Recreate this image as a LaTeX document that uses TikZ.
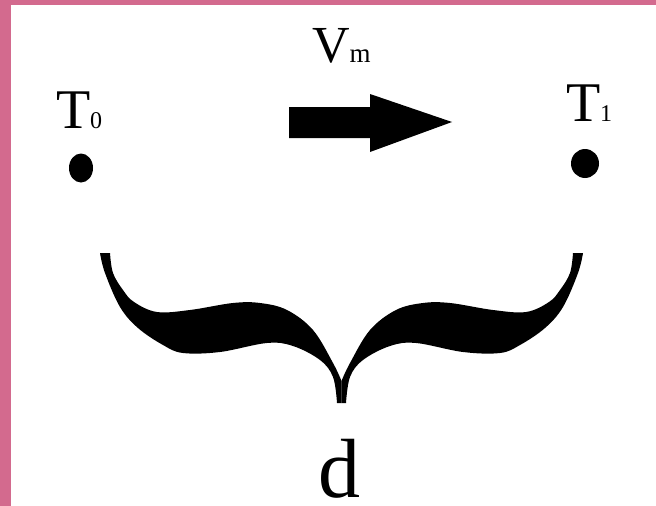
\documentclass[tikz,border=0pt]{standalone}
\usepackage{fontspec}
\setmainfont{Liberation Serif}
\usetikzlibrary{shapes.geometric}
\definecolor{pinkbar}{RGB}{211,106,142}
\tikzset{
  lbl/.style={inner sep=0pt, outer sep=0pt, anchor=base west},
  dotmark/.style={ellipse, fill=black, inner sep=0pt, outer sep=0pt},
}
\begin{document}
\begin{tikzpicture}[x=1pt, y=-1pt]
  \useasboundingbox (0,0) rectangle (656,506);
  \fill[white] (0,0) rectangle (656,506);
  \fill[pinkbar] (0,0) rectangle (11,506);
  \fill[pinkbar] (0,0) rectangle (656,5);

  % labels
  \node[lbl] (t0) at (56,128) {\fontsize{56}{60}\selectfont T\fontsize{24}{26}\selectfont 0};
  \node[lbl] (t1) at (566,121) {\fontsize{56}{60}\selectfont T\fontsize{24}{26}\selectfont 1};
  \node[lbl] (vm) at (312,62) {\fontsize{52}{56}\selectfont V\fontsize{27}{30}\selectfont m};
  \node[lbl] (d) at (318,497) {\fontsize{84}{90}\selectfont d};

  % points
  \node[dotmark, minimum width=24pt, minimum height=29pt] (p0) at (81,168) {};
  \node[dotmark, minimum width=28pt, minimum height=29pt] (p1) at (585,163.5) {};

  % block arrow
  \fill (289,107) -- (370,107) -- (370,94) -- (452,122) -- (370,152)
        -- (370,138) -- (289,138) -- cycle;

  % brace: left half and its mirror image
  \foreach \s in {1,-1}{
    \begin{scope}[shift={(341.5,0)}, xscale=\s, shift={(-341.5,0)}]
      \fill plot[smooth, tension=0.6] coordinates {(341.5,381) (333,363) (313,330) (287,310)
              (260,303) (233,303) (190,310) (157,312) (134,302) (123,290) (113,273) (110,253)}
        -- plot[smooth, tension=0.6] coordinates {(100,253) (105,273) (120,307) (138,328) (163,345)
              (183,353) (220,352) (267,343) (293,346) (320,360) (333,377) (337,403)}
        -- (341.5,403) -- cycle;
    \end{scope}
  }
\end{tikzpicture}
\end{document}
